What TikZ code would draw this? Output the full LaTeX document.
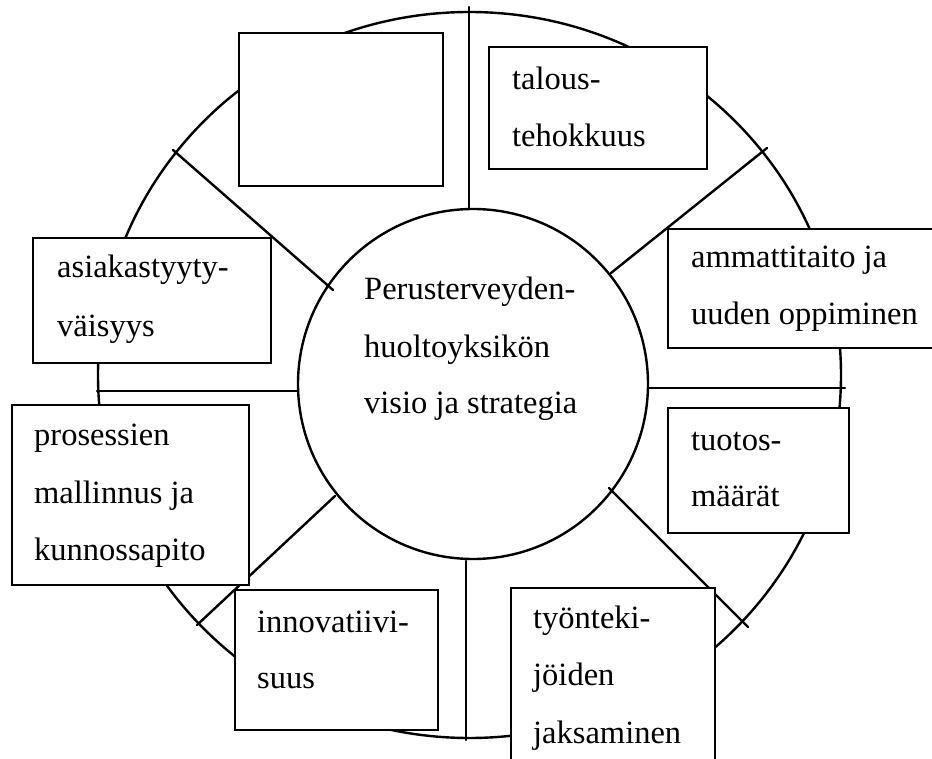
\documentclass[tikz,border=0pt]{standalone}
\usepackage{fontspec}
\setmainfont{Liberation Serif}
\usetikzlibrary{shapes.geometric}
\tikzset{
  lineart/.style={line width=2.4pt, line cap=round},
  boxst/.style={draw, fill=white, line width=2.6pt, rectangle, inner sep=0pt, outer sep=0pt, anchor=north west},
  txt/.style={anchor=base west, inner sep=0pt, font=\fontsize{32.5}{57}\selectfont}
}
\begin{document}
\begin{tikzpicture}[x=1pt,y=-1pt]
\useasboundingbox (0,0) rectangle (932,759);
\clip (0,0) rectangle (932,759);
% outer ring and core
\node[draw, ellipse, line width=2.4pt, minimum width=743pt, minimum height=726pt, inner sep=0pt] (rim) at (469.5,375) {};
\node[draw, circle, line width=2.4pt, minimum size=350pt, inner sep=0pt] (core) at (473,384) {};
% radial spokes
\coordinate (i1) at (469,209); \coordinate (o1) at (469,7);
\coordinate (i2) at (611,273); \coordinate (o2) at (767,148);
\coordinate (i3) at (649,388); \coordinate (o3) at (845,388);
\coordinate (i4) at (609,488); \coordinate (o4) at (748,627);
\coordinate (i5) at (466,561); \coordinate (o5) at (466,740);
\coordinate (i6) at (335,496); \coordinate (o6) at (197,625);
\coordinate (i7) at (298,391); \coordinate (o7) at (97,391);
\coordinate (i8) at (333,290); \coordinate (o8) at (173,150);
\foreach \k in {1,...,8} {\draw[lineart] (i\k) -- (o\k);}
% boxes
\node[boxst, minimum width=204pt, minimum height=153pt] (empty) at (239,33) {};
\node[boxst, minimum width=218pt, minimum height=122pt] (talous) at (489,47) {};
\node[boxst, minimum width=280pt, minimum height=119pt] (ammatti) at (668,229) {};
\node[boxst, minimum width=181pt, minimum height=125pt] (tuotos) at (668,408) {};
\node[boxst, minimum width=204pt, minimum height=190pt] (tyon) at (511,588) {};
\node[boxst, minimum width=203pt, minimum height=140pt] (innov) at (235,590) {};
\node[boxst, minimum width=237pt, minimum height=180pt] (proses) at (12,405) {};
\node[boxst, minimum width=238pt, minimum height=125pt] (asiakas) at (33,238) {};
% texts
\node[txt] (c1) at (364,300) {Perusterveyden-};
\node[txt] (c2) at (364,357) {huoltoyksikön};
\node[txt] (c3) at (364,413) {visio ja strategia};
\node[txt] (ta1) at (512,90) {talous-};
\node[txt] (ta2) at (512,147) {tehokkuus};
\node[txt] (am1) at (691,268) {ammattitaito ja};
\node[txt] (am2) at (691,325) {uuden oppiminen};
\node[txt] (tu1) at (691,450) {tuotos-};
\node[txt] (tu2) at (691,506) {määrät};
\node[txt] (ty1) at (533,628) {työnteki-};
\node[txt] (ty2) at (533,685) {jöiden};
\node[txt] (ty3) at (533,743) {jaksaminen};
\node[txt] (in1) at (257,632) {innovatiivi-};
\node[txt] (in2) at (257,688) {suus};
\node[txt] (pr1) at (34,445) {prosessien};
\node[txt] (pr2) at (34,503) {mallinnus ja};
\node[txt] (pr3) at (34,560) {kunnossapito};
\node[txt] (as1) at (57,278) {asiakastyyty-};
\node[txt] (as2) at (57,337) {väisyys};
\end{tikzpicture}
\end{document}
